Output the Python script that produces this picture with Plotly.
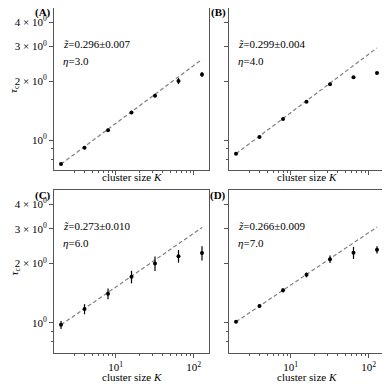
import plotly.graph_objects as go

# cluster sizes
K = [2, 4, 8, 16, 32, 64, 128]

# tau_c per panel
tau_A = [0.754, 0.913, 1.121, 1.384, 1.683, 2.00, 2.16]
err_A = [0.010, 0.010, 0.012, 0.015, 0.020, 0.070, 0.065]
tau_B = [0.851, 1.036, 1.280, 1.568, 1.924, 2.089, 2.197]
err_B = [0.008, 0.008, 0.010, 0.012, 0.015, 0.015, 0.015]
tau_C = [0.977, 1.175, 1.406, 1.711, 2.00, 2.18, 2.26]
err_C = [0.046, 0.069, 0.088, 0.125, 0.17, 0.16, 0.19]
tau_D = [1.012, 1.216, 1.462, 1.752, 2.104, 2.27, 2.35]
err_D = [0.015, 0.025, 0.035, 0.05, 0.09, 0.16, 0.10]

# fit exponents and amplitudes, tau = amp * K**z
z_fit = [0.296, 0.299, 0.273, 0.266]
z_err = [0.007, 0.004, 0.010, 0.009]
amp_fit = [0.614, 0.692, 0.809, 0.842]
eta = [3.0, 4.0, 6.0, 7.0]
panel_names = ["(A)", "(B)", "(C)", "(D)"]

# tick labels
x_tickvals = [10, 100]
x_ticktext = ["10<sup>1</sup>", "10<sup>2</sup>"]
y_tickvals = [1, 2, 3, 4]
y_ticktext = ["10<sup>0</sup>", "2 × 10<sup>0</sup>", "3 × 10<sup>0</sup>", "4 × 10<sup>0</sup>"]

# page body has an 8px margin, so the figure is drawn 8px smaller and shifted
OFF = 8
W, H = 390 - OFF, 390 - OFF
SERIF = "Liberation Serif"

def px(x):
    return min(1.0, max(0.0, (x - OFF) / W))

def py(y):
    return min(1.0, max(0.0, 1 - (y - OFF) / H))

# panel frames in page pixels: left, right, top, bottom
frames = [(54, 209, 8, 170), (229, 384, 8, 170), (54, 209, 190, 353), (229, 384, 190, 353)]
taus = [tau_A, tau_B, tau_C, tau_D]
errs = [err_A, err_B, err_C, err_D]

fig = go.Figure()
xmin, xmax = 0.211, 2.197
ymin, ymax = -0.153, 0.674

for i in range(4):
    n = "" if i == 0 else str(i + 1)
    xa, ya = "x" + n, "y" + n
    l, r, t, b = frames[i]
    # fit line
    kline = [K[0], K[-1]]
    fig.add_trace(go.Scatter(
        x=kline, y=[amp_fit[i] * k ** z_fit[i] for k in kline],
        mode="lines", line=dict(color="#808080", width=1.2, dash="4px,2.5px"),
        xaxis=xa, yaxis=ya, showlegend=False))
    # data
    fig.add_trace(go.Scatter(
        x=K, y=taus[i], mode="markers",
        marker=dict(color="black", size=4),
        error_y=dict(type="data", array=errs[i], color="black", thickness=1.2, width=0),
        xaxis=xa, yaxis=ya, showlegend=False))

    bottom_row = i >= 2
    left_col = i % 2 == 0
    fig.update_layout({
        ("xaxis" + n): dict(
            type="log", range=[xmin, xmax], domain=[px(l), px(r)],
            anchor=ya, showgrid=False, zeroline=False,
            showline=True, mirror=True, linecolor="#555", linewidth=1,
            ticks="outside", ticklen=4, tickcolor="#555",
            tickvals=x_tickvals, ticktext=x_ticktext,
            showticklabels=bottom_row,
            tickfont=dict(family=SERIF, size=11, color="black"),
            minor=dict(ticks="outside", ticklen=2, tickcolor="#555",
                       tickvals=[3, 4, 5, 6, 7, 8, 9, 20, 30, 40, 50, 60, 70, 80, 90], showgrid=False),
        ),
        ("yaxis" + n): dict(
            type="log", range=[ymin, ymax], domain=[py(b), py(t)],
            anchor=xa, showgrid=False, zeroline=False,
            showline=True, mirror=True, linecolor="#555", linewidth=1,
            ticks="outside", ticklen=4, tickcolor="#555",
            tickvals=y_tickvals, ticktext=y_ticktext,
            showticklabels=left_col,
            tickfont=dict(family=SERIF, size=11, color="black"),
            minor=dict(ticks="outside", ticklen=2, tickcolor="#555",
                       tickvals=[0.7, 0.8, 0.9], showgrid=False),
        ),
    })

annotations = []
for i in range(4):
    l, r, t, b = frames[i]
    annotations.append(dict(
        x=px(l - 1), y=py(t + 5), xref="paper", yref="paper",
        text="<b>" + panel_names[i] + "</b>", showarrow=False,
        xanchor="right", yanchor="middle",
        font=dict(family=SERIF, size=11, color="black")))
    annotations.append(dict(
        x=px(l + 7), y=py(t + 36), xref="paper", yref="paper",
        text="<i>z\u0303</i>=%.3f±%.3f" % (z_fit[i], z_err[i]), showarrow=False,
        xanchor="left", yanchor="middle",
        font=dict(family=SERIF, size=11, color="black")))
    annotations.append(dict(
        x=px(l + 7), y=py(t + 53), xref="paper", yref="paper",
        text="<i>η</i>=%.1f" % eta[i], showarrow=False,
        xanchor="left", yanchor="middle",
        font=dict(family=SERIF, size=11, color="black")))
    annotations.append(dict(
        x=px((l + r) / 2), y=py(b + 7 if i < 2 else b + 24), xref="paper", yref="paper",
        text="cluster size <i>K</i>", showarrow=False,
        xanchor="center", yanchor="middle",
        font=dict(family=SERIF, size=11, color="black")))
    if i % 2 == 0:
        annotations.append(dict(
            x=px(14), y=py((t + b) / 2), xref="paper", yref="paper",
            text="<i>τ</i><sub>c</sub>", showarrow=False, textangle=-90,
            xanchor="center", yanchor="middle",
            font=dict(family=SERIF, size=11, color="black")))

fig.update_layout(
    width=W, height=H,
    margin=dict(l=0, r=0, t=0, b=0),
    paper_bgcolor="white", plot_bgcolor="white",
    annotations=annotations,
)

fig.write_html("out.html")
